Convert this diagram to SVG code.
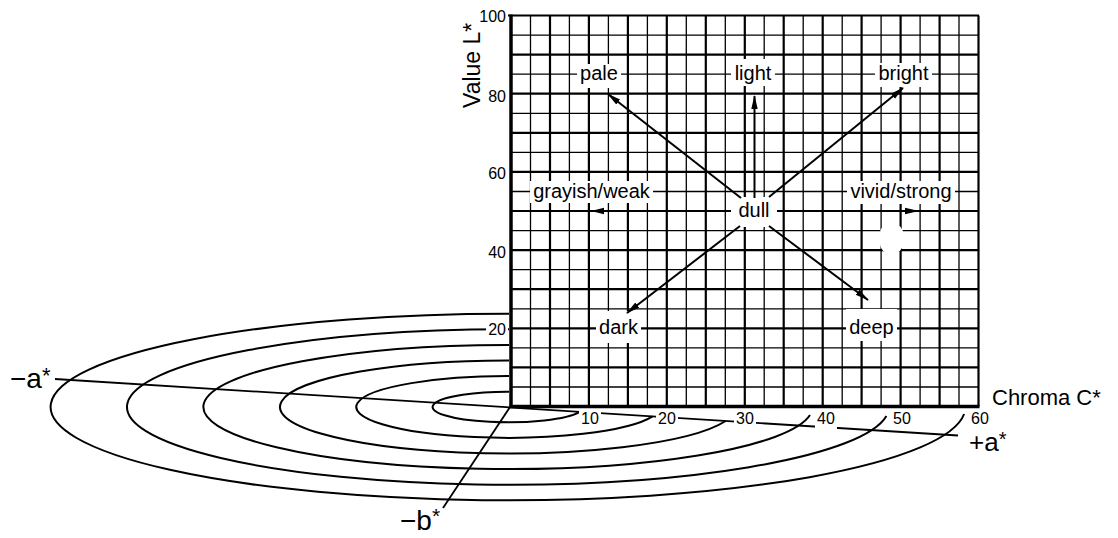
<svg xmlns="http://www.w3.org/2000/svg" width="1118" height="538" viewBox="0 0 1118 538">
<style>
.t{font-family:"Liberation Sans",Arial,Helvetica,sans-serif;fill:#000}
.lbl{font-size:20px;text-anchor:middle}
.tick{font-size:16px;text-anchor:end}
.ch{font-size:16px}
.ell{fill:none;stroke:#000;stroke-width:2}
.ax{fill:none;stroke:#000;stroke-width:1.8}
.g1{stroke:#000;stroke-width:1.3}
.g2{stroke:#000;stroke-width:2.2}
.wb{fill:#fff;stroke:none}
.arr{fill:none;stroke:#000;stroke-width:2;marker-end:url(#ah)}
</style>
<defs>
<marker id="ah" viewBox="0 0 14 8" refX="13" refY="4" markerWidth="14" markerHeight="8" markerUnits="userSpaceOnUse" orient="auto">
<path d="M0,0.8 L14,4 L0,7.2 z" fill="#000"/>
</marker>
</defs>
<rect width="1118" height="538" fill="#fff"/>

<g id="hue-circles">
<path class="ell" d="M516,391.8 A75.4,15.3 0 1 0 579.6,411.8"/>
<path class="ell" d="M516,376.1 A151.8,30.9 0 1 0 652.6,416.4"/>
<path class="ell" d="M516,360.5 A228.2,46.5 0 1 0 725.7,421"/>
<path class="ell" d="M516,344.9 A304.6,62.1 0 1 0 810,415"/>
<path class="ell" d="M516,329.3 A381,77.7 0 1 0 886.4,416"/>
<path class="ell" d="M516,313.7 A457.4,93.3 0 1 0 964.1,414"/>
</g>

<g id="ab-axes">
<line class="ax" x1="55" y1="379" x2="958" y2="435.5"/>
<line class="ax" x1="510" y1="407" x2="443" y2="508"/>
</g>

<g id="grid">
<rect x="509" y="14.5" width="471" height="392" fill="#fff"/>
<g class="g1">
<line x1="530.5" y1="15.5" x2="530.5" y2="406.5"/>
<line x1="569.4" y1="15.5" x2="569.4" y2="406.5"/>
<line x1="608.4" y1="15.5" x2="608.4" y2="406.5"/>
<line x1="647.4" y1="15.5" x2="647.4" y2="406.5"/>
<line x1="686.3" y1="15.5" x2="686.3" y2="406.5"/>
<line x1="725.3" y1="15.5" x2="725.3" y2="406.5"/>
<line x1="764.2" y1="15.5" x2="764.2" y2="406.5"/>
<line x1="803.2" y1="15.5" x2="803.2" y2="406.5"/>
<line x1="842.2" y1="15.5" x2="842.2" y2="406.5"/>
<line x1="881.1" y1="15.5" x2="881.1" y2="406.5"/>
<line x1="920.1" y1="15.5" x2="920.1" y2="406.5"/>
<line x1="959" y1="15.5" x2="959" y2="406.5"/>
<line x1="511" y1="35.1" x2="978.5" y2="35.1"/>
<line x1="511" y1="74.2" x2="978.5" y2="74.2"/>
<line x1="511" y1="113.3" x2="978.5" y2="113.3"/>
<line x1="511" y1="152.4" x2="978.5" y2="152.4"/>
<line x1="511" y1="191.5" x2="978.5" y2="191.5"/>
<line x1="511" y1="230.6" x2="978.5" y2="230.6"/>
<line x1="511" y1="269.7" x2="978.5" y2="269.7"/>
<line x1="511" y1="308.8" x2="978.5" y2="308.8"/>
<line x1="511" y1="347.9" x2="978.5" y2="347.9"/>
<line x1="511" y1="387" x2="978.5" y2="387"/>
</g>
<g class="g2">
<line x1="550" y1="15.5" x2="550" y2="406.5"/>
<line x1="588.9" y1="15.5" x2="588.9" y2="406.5"/>
<line x1="627.9" y1="15.5" x2="627.9" y2="406.5"/>
<line x1="666.8" y1="15.5" x2="666.8" y2="406.5"/>
<line x1="705.8" y1="15.5" x2="705.8" y2="406.5"/>
<line x1="744.8" y1="15.5" x2="744.8" y2="406.5"/>
<line x1="783.7" y1="15.5" x2="783.7" y2="406.5"/>
<line x1="822.7" y1="15.5" x2="822.7" y2="406.5"/>
<line x1="861.6" y1="15.5" x2="861.6" y2="406.5"/>
<line x1="900.6" y1="15.5" x2="900.6" y2="406.5"/>
<line x1="939.6" y1="15.5" x2="939.6" y2="406.5"/>
<line x1="511" y1="54.6" x2="978.5" y2="54.6"/>
<line x1="511" y1="93.7" x2="978.5" y2="93.7"/>
<line x1="511" y1="132.8" x2="978.5" y2="132.8"/>
<line x1="511" y1="171.9" x2="978.5" y2="171.9"/>
<line x1="511" y1="211" x2="978.5" y2="211"/>
<line x1="511" y1="250.1" x2="978.5" y2="250.1"/>
<line x1="511" y1="289.2" x2="978.5" y2="289.2"/>
<line x1="511" y1="328.3" x2="978.5" y2="328.3"/>
<line x1="511" y1="367.4" x2="978.5" y2="367.4"/>
<line x1="508" y1="15.5" x2="979" y2="15.5"/>
<line x1="978.5" y1="15.5" x2="978.5" y2="406.5"/>
</g>
<line x1="511" y1="14.5" x2="511" y2="408" stroke="#000" stroke-width="3.5"/>
<line x1="509.5" y1="406.5" x2="979.5" y2="406.5" stroke="#000" stroke-width="3.5"/>
</g>

<g id="label-backgrounds">
<rect class="wb" x="577" y="64" width="44" height="24"/>
<rect class="wb" x="731" y="59" width="44" height="27"/>
<rect class="wb" x="875" y="63" width="57" height="24"/>
<rect class="wb" x="530" y="181" width="123" height="22"/>
<rect class="wb" x="847" y="181" width="108" height="23"/>
<rect class="wb" x="731" y="197" width="46" height="30"/>
<rect class="wb" x="596" y="311" width="45" height="32"/>
<rect class="wb" x="846" y="309" width="51" height="32"/>
<rect class="wb" x="880" y="224" width="23" height="29" rx="9"/>
</g>

<g id="node-pale"><text class="t lbl" x="599" y="80.2">pale</text></g>
<g id="node-light"><text class="t lbl" x="753" y="80.2">light</text></g>
<g id="node-bright"><text class="t lbl" x="903.5" y="80.2">bright</text></g>
<g id="node-grayish"><text class="t lbl" x="591.5" y="197.5">grayish/weak</text></g>
<g id="node-vivid"><text class="t lbl" x="901" y="197.5">vivid/strong</text></g>
<g id="node-dull"><text class="t lbl" x="754" y="217">dull</text></g>
<g id="node-dark"><text class="t lbl" x="618.5" y="334.3">dark</text></g>
<g id="node-deep"><text class="t lbl" x="871.5" y="334.3">deep</text></g>

<g id="connectors">
<line class="arr" x1="741" y1="198" x2="608" y2="94"/>
<line class="arr" x1="754.5" y1="198" x2="754.5" y2="96"/>
<line class="arr" x1="769" y1="197" x2="903" y2="88"/>
<line class="arr" x1="740" y1="226" x2="627" y2="313"/>
<line class="arr" x1="769" y1="226" x2="868" y2="300"/>
<polygon points="591,211 604,207.7 604,214.3" fill="#000"/>
<polygon points="919,211 905,207.7 905,214.3" fill="#000"/>
</g>

<g id="value-axis-labels">
<rect class="wb" x="486" y="321" width="22" height="16"/>
<text class="t tick" x="506" y="22">100</text>
<text class="t tick" x="506" y="101.5">80</text>
<text class="t tick" x="506" y="178.5">60</text>
<text class="t tick" x="506" y="257.5">40</text>
<text class="t tick" x="506" y="334.5">20</text>
<text class="t" font-size="23" transform="translate(480,108) rotate(-90)">Value L*</text>
</g>

<g id="chroma-labels">
<rect class="wb" x="579" y="410.5" width="22" height="16"/>
<rect class="wb" x="656" y="410.5" width="22" height="16"/>
<rect class="wb" x="734" y="410.5" width="22" height="16"/>
<rect class="wb" x="815" y="410.5" width="22" height="19"/>
<text class="t ch" x="581" y="424">10</text>
<text class="t ch" x="658" y="424">20</text>
<text class="t ch" x="736" y="424">30</text>
<text class="t ch" x="817" y="424">40</text>
<text class="t ch" x="893" y="424">50</text>
<text class="t ch" x="971" y="424">60</text>
<text class="t" font-size="22" x="992" y="405">Chroma C*</text>
</g>

<g id="axis-labels">
<text class="t" font-size="28" x="10" y="388">−a<tspan font-size="22" dy="-5">*</tspan></text>
<text class="t" font-size="26" x="969" y="451">+a<tspan font-size="20" dy="-5">*</tspan></text>
<text class="t" font-size="28" x="400" y="530">−b<tspan font-size="21" dy="-7">*</tspan></text>
</g>
</svg>
